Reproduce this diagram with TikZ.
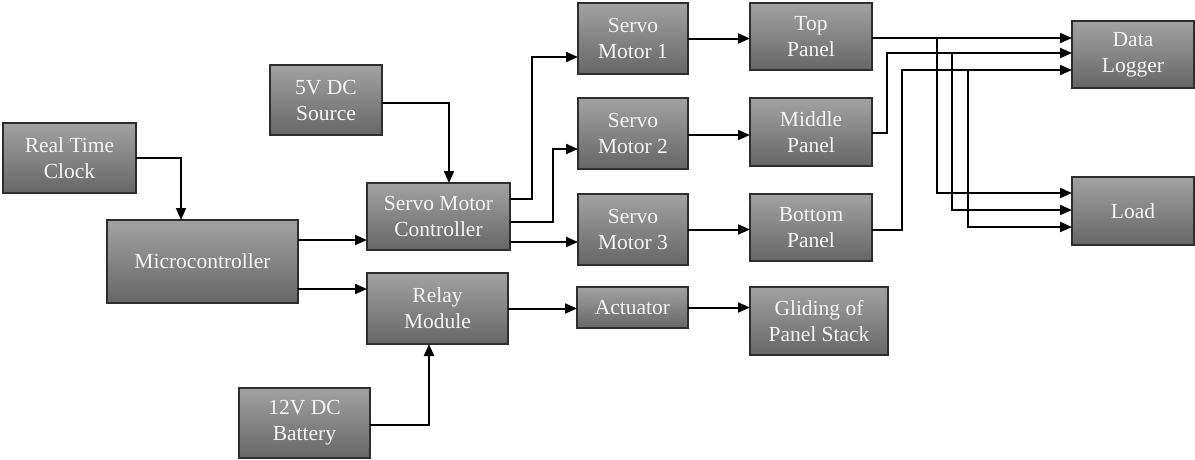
\documentclass[tikz,border=0pt]{standalone}
\usepackage{fontspec}
\setmainfont{Liberation Serif}
\usetikzlibrary{arrows.meta}
\definecolor{boxtop}{HTML}{A2A2A2}
\definecolor{boxbot}{HTML}{666666}
\definecolor{boxedge}{HTML}{2E2E2E}
\definecolor{boxtext}{HTML}{F4F4F4}
\tikzset{
  blk/.style={draw=boxedge, line width=1.5pt, top color=boxtop, bottom color=boxbot,
    text=boxtext, align=center, inner sep=0pt, outer sep=0pt,
    font=\fontsize{21.5}{26}\selectfont},
  arr/.style={draw=black, line width=2pt, -{Triangle[length=12pt,width=10pt]}},
}
\begin{document}
\begin{tikzpicture}[x=1pt,y=-1pt]
\useasboundingbox (0,0) rectangle (1195,459);

% blocks
\node[blk, minimum width=133pt, minimum height=70pt] (rtc)   at (69.5,158)  {Real Time\\Clock};
\node[blk, minimum width=191pt, minimum height=83pt] (mcu)   at (202.5,261.5) {Microcontroller};
\node[blk, minimum width=112pt, minimum height=70pt] (src)   at (326,100)   {5V DC\\Source};
\node[blk, minimum width=143pt, minimum height=67pt] (smc)   at (438.5,216.5) {Servo Motor\\Controller};
\node[blk, minimum width=141pt, minimum height=71pt] (relay) at (437.5,308.5) {Relay\\Module};
\node[blk, minimum width=131pt, minimum height=70pt] (bat)   at (304.5,423) {12V DC\\Battery};
\node[blk, minimum width=110pt, minimum height=71pt] (sma)   at (633,38.5)  {Servo\\Motor 1};
\node[blk, minimum width=110pt, minimum height=71pt] (smb)   at (633,133.5) {Servo\\Motor 2};
\node[blk, minimum width=110pt, minimum height=71pt] (smc3)  at (633,229.5) {Servo\\Motor 3};
\node[blk, minimum width=122pt, minimum height=67pt] (ptop)  at (811,36.5)  {Top\\Panel};
\node[blk, minimum width=122pt, minimum height=68pt] (pmid)  at (811,132)   {Middle\\Panel};
\node[blk, minimum width=122pt, minimum height=67pt] (pbot)  at (811,227.5) {Bottom\\Panel};
\node[blk, minimum width=111pt, minimum height=41pt] (act)   at (632.5,307.5) {Actuator};
\node[blk, minimum width=138pt, minimum height=68pt] (glide) at (819,321)   {Gliding of\\Panel Stack};
\node[blk, minimum width=122pt, minimum height=67pt] (dlog)  at (1133,54.5) {Data\\Logger};
\node[blk, minimum width=122pt, minimum height=68pt] (load)  at (1133,211)  {Load};

% control side
\draw[arr] (rtc.east) -| ([xshift=-21.5pt]mcu.north);
\draw[arr] ([yshift=-3pt]src.east) -| ([xshift=10.5pt]smc.north);
\coordinate (m1) at ([yshift=21.5pt]mcu.east);
\coordinate (m2) at ([yshift=-27.5pt]mcu.east);
\draw[arr] (m1) -- (m1 -| smc.west);
\draw[arr] (m2) -- (m2 -| relay.west);
\draw[arr] ([yshift=-2pt]bat.east) -| ([xshift=-8.5pt]relay.south);

% servo controller outputs
\coordinate (s1) at ([yshift=17.5pt]smc.east);
\coordinate (s2) at ([yshift=-5.5pt]smc.east);
\coordinate (s3) at ([yshift=-25.5pt]smc.east);
\coordinate (k1) at ([xshift=-46pt,yshift=-18.5pt]sma.west);
\coordinate (k2) at ([xshift=-25pt,yshift=-15.5pt]smb.west);
\draw[arr] (s1) -| (k1) -- (k1 -| sma.west);
\draw[arr] (s2) -| (k2) -- (k2 -| smb.west);
\draw[arr] (s3) -- (s3 -| smc3.west);

% servos to panels, relay to actuator
\draw[arr] (sma.east) -- (sma.east -| ptop.west);
\draw[arr] ([yshift=-1.5pt]smb.east) -- ([yshift=-1.5pt]smb.east -| pmid.west);
\draw[arr] (smc3.east) -- (smc3.east -| pbot.west);
\draw[arr] (relay.east) -- (relay.east -| act.west);
\draw[arr] (act.east) -- (act.east -| glide.west);

% panels to data logger and load
\coordinate (t0) at ([yshift=-1.5pt]ptop.east);
\coordinate (d2) at ([yshift=1.5pt]dlog.west);
\coordinate (d3) at ([yshift=-15.5pt]dlog.west);
\coordinate (e2) at ([xshift=15pt,yshift=-1pt]pmid.east);
\coordinate (e3) at ([xshift=30pt,yshift=-2.5pt]pbot.east);
\coordinate (b1) at ([xshift=65pt]ptop.east);
\coordinate (b2) at ([xshift=80pt]pmid.east);
\coordinate (b3) at ([xshift=96pt]pbot.east);
\coordinate (l1) at ([yshift=18pt]load.west);
\coordinate (l2) at ([yshift=1pt]load.west);
\coordinate (l3) at ([yshift=-16pt]load.west);

\draw[arr] (t0) -- (t0 -| dlog.west);
\draw[arr] ([yshift=-1pt]pmid.east) -- (e2) -- (e2 |- d2) -- (d2);
\draw[arr] ([yshift=-2.5pt]pbot.east) -- (e3) -- (e3 |- d3) -- (d3);
\draw[arr] (b1 |- t0) |- (l1);
\draw[arr] (b2 |- d2) |- (l2);
\draw[arr] (b3 |- d3) |- (l3);
\end{tikzpicture}
\end{document}
